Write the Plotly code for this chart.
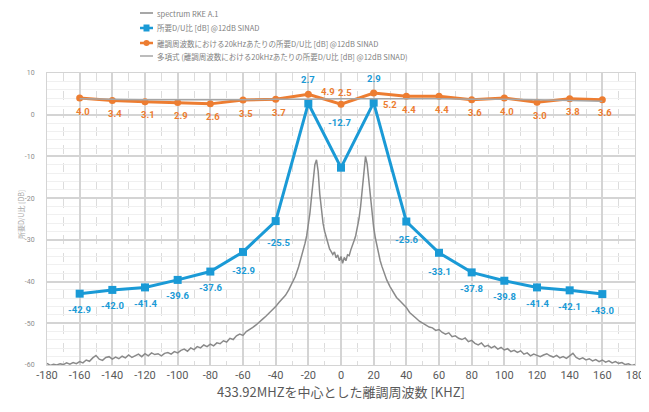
import plotly.graph_objects as go

# ---------------- data ----------------
freq_khz = [-160, -140, -120, -100, -80, -60, -40, -20, 0, 20, 40, 60, 80, 100, 120, 140, 160]
du_ratio = [-42.9, -42.0, -41.4, -39.6, -37.6, -32.9, -25.5, 2.7, -12.7, 2.9, -25.6, -33.1, -37.8, -39.8, -41.4, -42.1, -43.0]
du_per_20k = [4.0, 3.4, 3.1, 2.9, 2.6, 3.5, 3.7, 4.9, 2.5, 5.2, 4.4, 4.4, 3.6, 4.0, 3.0, 3.8, 3.6]
trend_vals = [3.8, 3.7, 3.6, 3.6, 3.6, 3.6, 3.7, 3.7, 3.8, 3.8, 3.8, 3.8, 3.7, 3.7, 3.6, 3.4, 3.2]

spec_x = [
    -180, -178, -176, -174, -172, -170, -168, -166, -164, -162, -160, -158, -156, -154, -152, -150,
    -148, -146, -144, -142, -140, -138, -136, -134, -132, -130, -128, -126, -124, -122, -120, -118,
    -116, -114, -112, -110, -108, -106, -104, -102, -100, -98, -96, -94, -92, -90, -88, -86, -84,
    -82, -80, -78, -76, -74, -72, -70, -68, -66, -64, -62, -60, -58, -56, -54, -52, -50, -48, -46,
    -44, -42, -40, -38, -36, -34, -32, -30, -28, -26,
    -25, -24, -23, -22, -21, -20, -19, -18, -17, -16, -15, -14, -13, -12, -11, -10,
    -9, -8, -7, -6, -5, -4, -3, -2, -1, 0, 1, 2, 3, 4, 5, 6, 7, 8, 9,
    10, 11, 12, 13, 14, 15, 16, 17, 18, 19, 20, 21, 22, 23, 24, 25,
    26, 28, 30, 32, 34, 36, 38, 40, 42, 44, 46, 48, 50, 52, 54, 56, 58, 60, 62, 64, 66, 68, 70,
    72, 74, 76, 78, 80, 82, 84, 86, 88, 90, 92, 94, 96, 98, 100, 102, 104, 106, 108, 110, 112,
    114, 116, 118, 120, 122, 124, 126, 128, 130, 132, 134, 136, 138, 140, 142, 144, 146, 148,
    150, 152, 154, 156, 158, 160, 162, 164, 166, 168, 170, 172, 174, 176, 178, 180,
]
spec_y = [
    -59.6, -60.1, -59.8, -60.0, -59.7, -59.9, -59.5, -59.8, -59.4, -59.7, -59.2, -59.5, -58.8, -59.1, -58.3, -57.7,
    -58.6, -58.9, -58.2, -58.0, -58.6, -58.1, -58.5, -57.9, -58.3, -57.6, -58.2, -57.7, -57.4, -58.0, -57.3, -57.8,
    -57.1, -57.5, -57.3, -57.8, -57.2, -57.0, -57.4, -56.8, -57.1, -56.5, -56.2, -56.7, -55.9, -56.3, -55.6, -55.9, -55.2,
    -55.6, -55.0, -55.4, -54.7, -54.9, -54.2, -54.5, -53.6, -53.9, -53.0, -52.6, -52.9, -52.0, -51.6, -51.0, -50.4, -49.6, -49.0, -48.3,
    -47.6, -46.8, -46.0, -45.0, -44.2, -43.3, -42.0, -40.5, -38.8, -36.5,
    -35.2, -34.0, -32.5, -30.8, -29.0, -26.5, -23.5, -19.5, -15.5, -12.0, -10.8, -13.5, -19.0, -23.5, -26.0, -28.0,
    -29.5, -31.0, -32.2, -32.8, -33.5, -32.9, -34.3, -33.6, -35.0, -34.0, -35.6, -34.2, -35.0, -33.6, -33.8, -32.4, -31.5, -30.2, -29.0,
    -27.2, -25.0, -22.0, -18.0, -12.5, -10.0, -11.8, -16.0, -20.5, -24.0, -27.0, -29.5, -31.5, -33.5, -35.0, -36.3,
    -37.5, -39.6, -41.2, -42.6, -43.8, -44.6, -45.4, -46.2, -47.4, -48.2, -48.8, -49.5, -50.0, -50.4, -50.9, -51.1, -51.7, -51.5, -52.2, -52.6, -52.3, -53.2, -53.0,
    -53.6, -53.9, -53.5, -54.4, -54.1, -54.8, -55.2, -54.7, -55.6, -55.3, -55.9, -55.5, -56.2, -55.8, -56.4, -56.1, -56.8, -56.5, -57.0, -56.6, -57.4,
    -57.1, -57.8, -57.4, -57.7, -58.0, -57.6, -57.3, -57.8, -58.1, -57.7, -58.3, -58.0, -58.4, -57.8, -57.2, -58.2, -58.6, -58.3,
    -58.8, -58.5, -59.0, -58.7, -59.2, -58.8, -59.3, -59.0, -59.5, -59.2, -59.6, -59.4, -59.9, -59.7, -60.1, -59.9,
]

x_ticks = list(range(-180, 181, 20))
y_ticks = list(range(-60, 11, 10))

legend_names = [
    "spectrum RKE A.1",
    "所要D/U比 [dB] @12dB SINAD",
    "離調周波数における20kHzあたりの所要D/U比 [dB] @12dB SINAD",
    "多項式 (離調周波数における20kHzあたりの所要D/U比 [dB] @12dB SINAD)",
]

# ---------------- style ----------------
BLUE = "#1a9ad6"
ORANGE = "#ed7d31"
SPEC_GREY = "#8a8a8a"
TREND_GREY = "#a6a6a6"
FONT = "Noto Sans CJK JP, Noto Sans, sans-serif"

# the page body has an 8px margin; target plot area on screen is x 47..635, y 73..365
OFF = 8
W, H = 641, 404
ML, MR, MT, MB = 47 - OFF, 14, 73 - OFF, 47
PW, PH = W - ML - MR, H - MT - MB


def px_to_paper(px, py):
    # px, py in screen pixels
    return (px - OFF - ML) / PW, (H - MB - (py - OFF)) / PH


fig = go.Figure()

fig.add_trace(go.Scatter(
    x=spec_x, y=spec_y, mode="lines", name=legend_names[0],
    line=dict(color=SPEC_GREY, width=1.5),
))
fig.add_trace(go.Scatter(
    x=freq_khz, y=du_ratio, mode="lines+markers", name=legend_names[1],
    line=dict(color=BLUE, width=3),
    marker=dict(symbol="square", size=8, color=BLUE),
))
fig.add_trace(go.Scatter(
    x=freq_khz, y=du_per_20k, mode="lines+markers", name=legend_names[2],
    line=dict(color=ORANGE, width=3),
    marker=dict(symbol="circle", size=7, color=ORANGE),
))
fig.add_trace(go.Scatter(
    x=freq_khz, y=trend_vals, mode="lines", name=legend_names[3],
    line=dict(color=TREND_GREY, width=1.5, shape="spline"),
))

# data labels
annos = []
for x, v in zip(freq_khz, du_ratio):
    xs, ys = 0, -16
    if x in (-20, 20):
        ys = 24
    elif x == 0:
        xs, ys = -2, 45
    elif x == -40:
        xs, ys = 3, -21
    elif x == 40:
        ys = -18
    elif x in (-60, 60):
        ys = -19
    annos.append(dict(x=x, y=v, text=f"{v:.1f}", showarrow=False, xshift=xs, yshift=ys,
                      font=dict(color=BLUE, size=9.5, family="Roboto", weight="bold"), xref="x", yref="y"))
for x, v in zip(freq_khz, du_per_20k):
    xs, ys = 3, -13
    if x == -20:
        xs, ys = 20, 3
    elif x == 0:
        xs, ys = 4, 12
    elif x == 20:
        xs, ys = 16, -11
    annos.append(dict(x=x, y=v, text=f"{v:.1f}", showarrow=False, xshift=xs, yshift=ys,
                      font=dict(color=ORANGE, size=9.5, family="Roboto", weight="bold"), xref="x", yref="y"))

# y axis title
annos.append(dict(text="所要D/U比 [DB]", xref="paper", yref="paper", x=px_to_paper(21, 0)[0], y=px_to_paper(0, 215)[1],
                  xanchor="center", yanchor="middle", textangle=-90, showarrow=False,
                  font=dict(size=7, color="#a6a6a6", family=FONT)))

# manual legend (compact, like the original)
shapes = []
leg_rows = [13, 28, 43, 56]
leg_colors = [SPEC_GREY, BLUE, ORANGE, TREND_GREY]
leg_widths = [1.5, 2.5, 2.5, 1.5]
x0p, _ = px_to_paper(140, 0)
x1p, _ = px_to_paper(153, 0)
for i, (name, py, col, lw) in enumerate(zip(legend_names, leg_rows, leg_colors, leg_widths)):
    _, yp = px_to_paper(0, py)
    shapes.append(dict(type="line", xref="paper", yref="paper", x0=x0p, x1=x1p, y0=yp, y1=yp,
                       line=dict(color=col, width=lw)))
    if i == 1:
        a, b = px_to_paper(143.5, py - 3.5)
        c, d = px_to_paper(149.5, py + 3.5)
        shapes.append(dict(type="rect", xref="paper", yref="paper", x0=a, x1=c, y0=d, y1=b,
                           line=dict(width=0), fillcolor=BLUE))
    if i == 2:
        a, b = px_to_paper(143.5, py - 3)
        c, d = px_to_paper(149.5, py + 3)
        shapes.append(dict(type="circle", xref="paper", yref="paper", x0=a, x1=c, y0=d, y1=b,
                           line=dict(width=0), fillcolor=ORANGE))
    tx, ty = px_to_paper(155, py)
    annos.append(dict(text=name, xref="paper", yref="paper", x=tx, y=ty, xanchor="left", yanchor="middle",
                      showarrow=False, font=dict(size=7.5, color="#7f7f7f", family=FONT)))

fig.update_layout(
    width=W, height=H,
    margin=dict(l=ML, r=MR, t=MT, b=MB, autoexpand=False),
    paper_bgcolor="white", plot_bgcolor="white",
    font=dict(family=FONT, color="#595959"),
    showlegend=False,
    annotations=annos,
    shapes=shapes,
    xaxis=dict(
        range=[-180, 180], tickmode="array", tickvals=x_ticks, ticktext=[str(t) for t in x_ticks],
        showgrid=True, gridcolor="#d4d4d4", gridwidth=1.5,
        minor=dict(dtick=10, showgrid=True, gridcolor="#dcdcdc", griddash="dash", gridwidth=1),
        zeroline=False, showline=True, linecolor="#d4d4d4", linewidth=1, mirror=True,
        ticks="", tickfont=dict(size=11, color="#595959", family="Roboto"),
        title=dict(text="433.92MHZを中心とした離調周波数 [KHZ]", font=dict(size=13, color="#595959"), standoff=6),
    ),
    yaxis=dict(
        range=[-60, 10], tickmode="array", tickvals=y_ticks, ticktext=[str(t) for t in y_ticks],
        showgrid=True, gridcolor="#d4d4d4", gridwidth=1.5,
        minor=dict(dtick=2, showgrid=True, gridcolor="#f0f0f0", gridwidth=1),
        zeroline=False, showline=True, linecolor="#d4d4d4", linewidth=1, mirror=True,
        ticks="", ticklabelstandoff=10, tickfont=dict(size=7, color="#8c8c8c", family="Roboto"),
    ),
)

fig.write_html("out.html")
